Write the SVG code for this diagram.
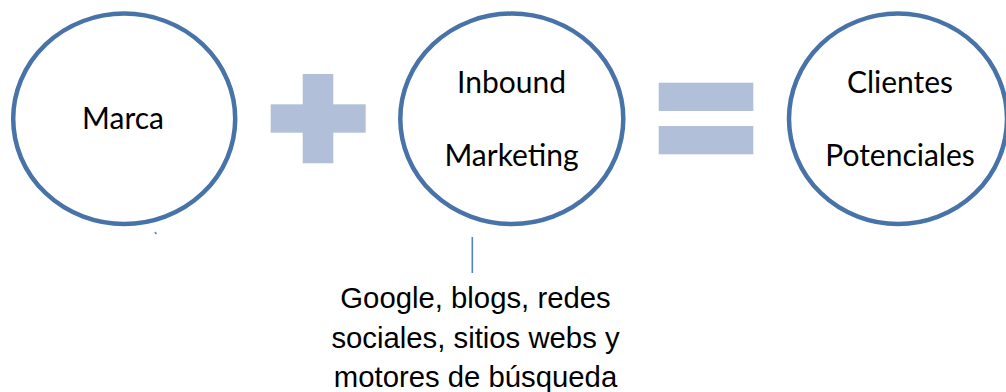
<svg xmlns="http://www.w3.org/2000/svg" width="1006" height="392" viewBox="0 0 1006 392">
  <style>
    .node { fill: #ffffff; stroke: #4873a9; stroke-width: 4.5; }
    .lbl { font-family: Lato, "Open Sans", sans-serif; font-size: 30px; fill: #000000; text-anchor: middle; }
    .op { fill: #b1c0d8; }
    .conn { stroke: #5283c4; stroke-width: 1.6; fill: none; }
    .note { font-family: "Liberation Sans", Arial, sans-serif; font-size: 29.3px; fill: #000000; text-anchor: middle; }
  </style>
  <rect width="1006" height="392" fill="#ffffff"/>
  <g id="marca">
    <ellipse class="node" cx="124.2" cy="118.8" rx="111" ry="105.2"/>
    <text class="lbl" x="123" y="128.5">Marca</text>
  </g>
  <g id="plus">
    <rect class="op" x="302.7" y="74" width="30.6" height="89.3"/>
    <rect class="op" x="270.7" y="104.3" width="95" height="28.4"/>
  </g>
  <g id="inbound">
    <ellipse class="node" cx="511.8" cy="118.8" rx="111.5" ry="105.2"/>
    <text class="lbl" x="511.5" y="93">Inbound</text>
    <text class="lbl" x="511.5" y="165.5">Marketing</text>
  </g>
  <g id="equals">
    <rect class="op" x="658.7" y="82.7" width="94.6" height="28.3"/>
    <rect class="op" x="658.7" y="126" width="94.6" height="28.3"/>
  </g>
  <g id="clientes">
    <ellipse class="node" cx="898" cy="118.8" rx="109" ry="105.2"/>
    <text class="lbl" x="900" y="93">Clientes</text>
    <text class="lbl" x="900" y="165.5">Potenciales</text>
  </g>
  <g id="connectors">
    <line class="conn" x1="472.3" y1="237" x2="472.3" y2="273"/>
    <line class="conn" x1="155" y1="232" x2="156.4" y2="234" stroke-width="1.2"/>
  </g>
  <g id="note">
    <text class="note" x="475.5" y="308.3">Google, blogs, redes</text>
    <text class="note" x="475.5" y="348.3">sociales, sitios webs y</text>
    <text class="note" x="475.5" y="386.7">motores de búsqueda</text>
  </g>
</svg>
